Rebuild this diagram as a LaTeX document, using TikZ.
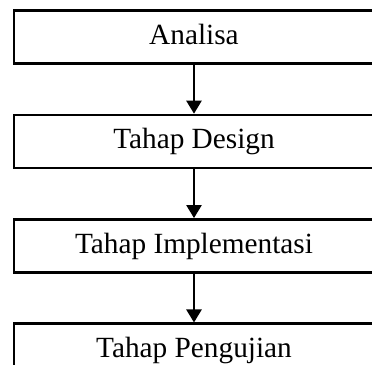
\documentclass[tikz,border=0pt]{standalone}
\usepackage{fontspec}
\setmainfont{Liberation Serif}
\usetikzlibrary{arrows.meta}
\usetikzlibrary{positioning}

\begin{document}
\begin{tikzpicture} [x=.5pt, y=-.5pt, tahap/.style={draw=black, line width=1.2pt, minimum width=180pt, minimum height=26.5pt, inner sep=0pt, text height=.95em, text depth=.2em, font=\fontsize{14.65}{17}\selectfont}, alur/.style={black, line width=1.2pt, -{Triangle[length=6.5pt, width=7.5pt]}}]
\clip (0,0) rectangle (372,365);

\node[tahap] (analisa) at (194,37) {Analisa};
\node[tahap, below=24.5pt of analisa] (design) {Tahap Design};
\node[tahap, below=24.5pt of design] (implementasi) {Tahap Implementasi};
\node[tahap, below=24.5pt of implementasi] (pengujian) {Tahap Pengujian};

\foreach \a/\b in {analisa/design, design/implementasi, implementasi/pengujian} \draw[alur] (\a) -- (\b);

\end{tikzpicture}
\end{document}
